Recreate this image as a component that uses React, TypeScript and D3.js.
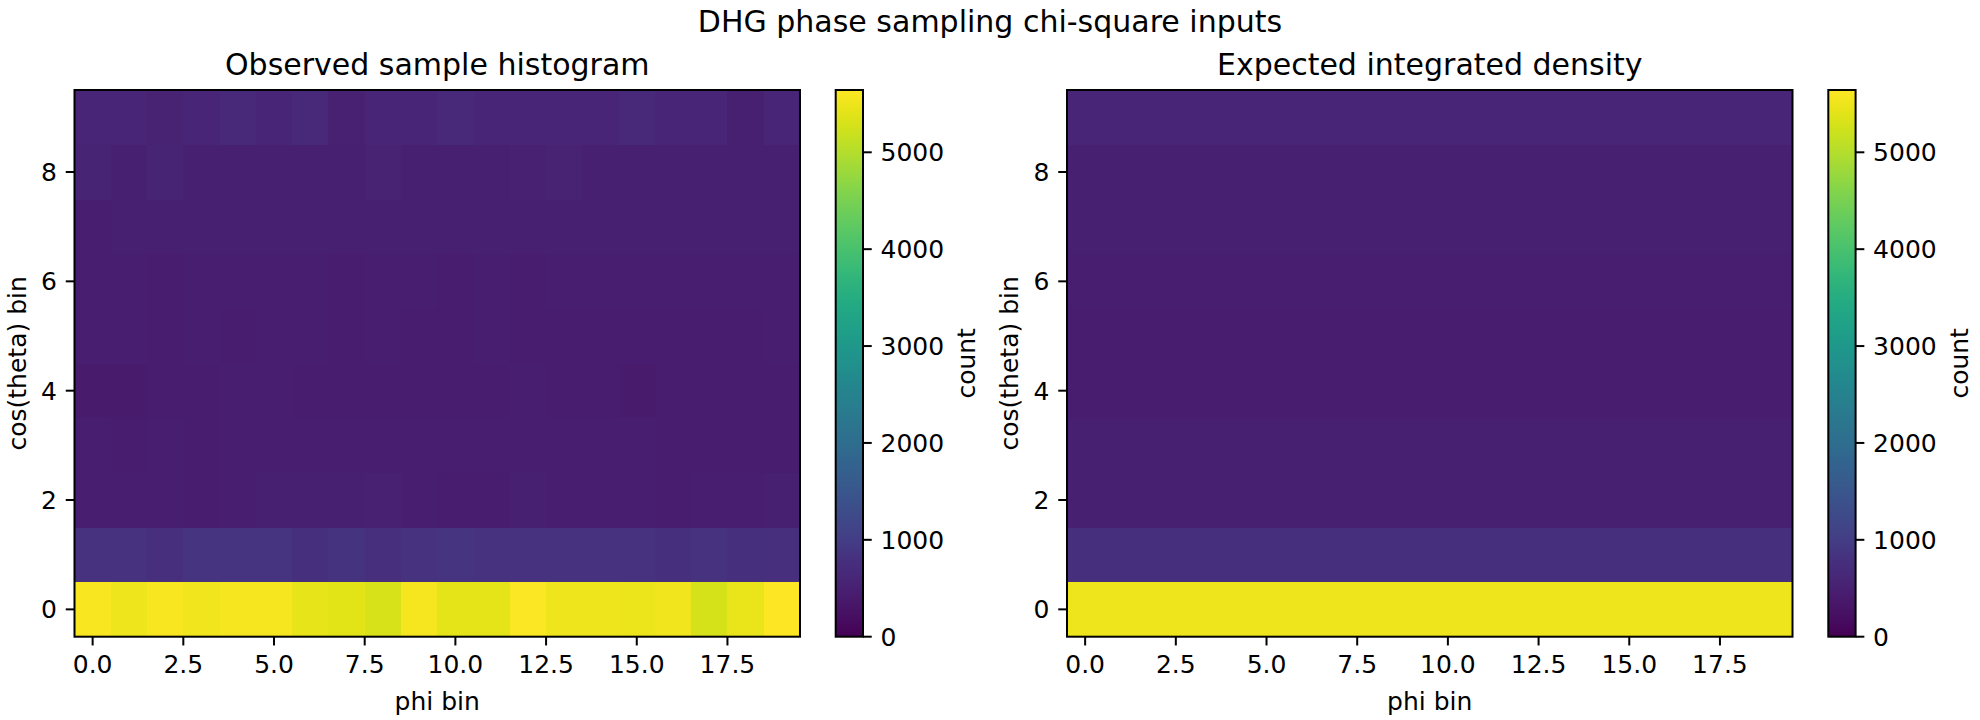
import React from "react";
import * as d3 from "d3";

// ---------- data ----------
const phiBins: number[] = d3.range(20);
const cosBins: number[] = d3.range(10);

// observed counts, one array per cos(theta) bin (index 0 = bottom row), 20 phi bins each
const observedCounts: number[][] = [
  [5585, 5500, 5580, 5530, 5555, 5555, 5440, 5385, 5300, 5560, 5415, 5415, 5610, 5500, 5500, 5470, 5525, 5270, 5445, 5643],
  [800, 800, 750, 840, 840, 845, 790, 830, 750, 800, 840, 800, 800, 800, 800, 800, 790, 800, 780, 760],
  [475, 465, 470, 460, 480, 485, 485, 485, 510, 475, 450, 450, 500, 475, 475, 470, 450, 470, 470, 505],
  [470, 430, 470, 435, 470, 470, 470, 470, 470, 470, 470, 465, 480, 470, 470, 470, 430, 460, 460, 420],
  [415, 415, 430, 430, 465, 465, 420, 425, 425, 425, 425, 420, 470, 425, 420, 415, 420, 440, 450, 425],
  [470, 470, 440, 465, 430, 470, 465, 440, 475, 430, 430, 465, 420, 425, 425, 425, 425, 425, 430, 470],
  [475, 475, 440, 475, 475, 475, 475, 440, 480, 475, 440, 470, 435, 475, 475, 475, 475, 475, 475, 475],
  [465, 495, 485, 485, 485, 485, 490, 490, 490, 490, 490, 490, 490, 490, 505, 490, 490, 490, 490, 490],
  [555, 500, 555, 505, 495, 500, 500, 500, 550, 500, 500, 505, 510, 550, 495, 495, 500, 500, 500, 505],
  [590, 585, 530, 575, 630, 580, 635, 520, 585, 590, 625, 580, 585, 590, 590, 630, 580, 580, 500, 590],
];

// expected integrated density per cos(theta) bin (uniform in phi)
const expectedByCos: number[] = [5500, 790, 500, 490, 450, 450, 480, 490, 500, 575];

const xTicks: number[] = [0, 2.5, 5, 7.5, 10, 12.5, 15, 17.5];
const yTicks: number[] = [0, 2, 4, 6, 8];
const cbarTicks: number[] = [0, 1000, 2000, 3000, 4000, 5000];

const suptitle = "DHG phase sampling chi-square inputs";
const panelTitles = ["Observed sample histogram", "Expected integrated density"];
const xLabel = "phi bin";
const yLabel = "cos(theta) bin";
const cbarLabel = "count";

// ---------- layout ----------
const W = 1980;
const H = 720;
const FONT = "DejaVu Sans";
const TICK = 8.75;
const PAD = 8.75;
const LW = 2;
const axTop = 90;
const axBottom = 636.7;
const panels = [
  { x0: 74.5, x1: 800, cb0: 835.7, cb1: 863 },
  { x0: 1067, x1: 1792.5, cb0: 1828.3, cb1: 1855.6 },
];

const vmax = d3.max(observedCounts.flat()) as number;
const color = d3.scaleSequential(d3.interpolateViridis).domain([0, vmax]);

function Panel({ idx, grid }: { idx: number; grid: number[][] }) {
  const p = panels[idx];
  const x = d3.scaleLinear().domain([-0.5, 19.5]).range([p.x0, p.x1]);
  const y = d3.scaleLinear().domain([-0.5, 9.5]).range([axBottom, axTop]);
  const cy = d3.scaleLinear().domain([0, vmax]).range([axBottom, axTop]);
  const gradId = `viridis-${idx}`;
  const stops = d3.range(0, 1.0001, 0.02);
  return (
    <g>
      <defs>
        <linearGradient id={gradId} x1="0" y1="1" x2="0" y2="0">
          {stops.map((t) => (
            <stop key={t} offset={t} stopColor={d3.interpolateViridis(t)} />
          ))}
        </linearGradient>
      </defs>
      {/* cells */}
      <g shapeRendering="crispEdges">
        {cosBins.map((j) =>
          phiBins.map((i) => (
            <rect
              key={`${i}-${j}`}
              x={x(i - 0.5)}
              y={y(j + 0.5)}
              width={x(i + 0.5) - x(i - 0.5) + 0.3}
              height={y(j - 0.5) - y(j + 0.5) + 0.3}
              fill={color(grid[j][i])}
            />
          ))
        )}
      </g>
      {/* frame */}
      <rect x={p.x0} y={axTop} width={p.x1 - p.x0} height={axBottom - axTop} fill="none" stroke="#000" strokeWidth={LW} />
      {/* x ticks */}
      {xTicks.map((t) => (
        <g key={`xt${t}`}>
          <line x1={x(t)} x2={x(t)} y1={axBottom} y2={axBottom + TICK} stroke="#000" strokeWidth={LW} />
          <text x={x(t)} y={axBottom + TICK + PAD + 19} textAnchor="middle" fontSize={25} fontFamily={FONT}>
            {t.toFixed(1)}
          </text>
        </g>
      ))}
      {/* y ticks */}
      {yTicks.map((t) => (
        <g key={`yt${t}`}>
          <line x1={p.x0 - TICK} x2={p.x0} y1={y(t)} y2={y(t)} stroke="#000" strokeWidth={LW} />
          <text x={p.x0 - TICK - PAD} y={y(t)} dy="0.36em" textAnchor="end" fontSize={25} fontFamily={FONT}>
            {String(t)}
          </text>
        </g>
      ))}
      {/* labels */}
      <text x={(p.x0 + p.x1) / 2} y={710} textAnchor="middle" fontSize={25} fontFamily={FONT}>
        {xLabel}
      </text>
      <text
        transform={`translate(${p.x0 - 49},${(axTop + axBottom) / 2}) rotate(-90)`}
        textAnchor="middle"
        fontSize={25}
        fontFamily={FONT}
      >
        {yLabel}
      </text>
      <text x={(p.x0 + p.x1) / 2} y={75} textAnchor="middle" fontSize={30} fontFamily={FONT}>
        {panelTitles[idx]}
      </text>
      {/* colorbar */}
      <rect x={p.cb0} y={axTop} width={p.cb1 - p.cb0} height={axBottom - axTop} fill={`url(#${gradId})`} />
      <rect x={p.cb0} y={axTop} width={p.cb1 - p.cb0} height={axBottom - axTop} fill="none" stroke="#000" strokeWidth={LW} />
      {cbarTicks.map((t) => (
        <g key={`ct${t}`}>
          <line x1={p.cb1} x2={p.cb1 + TICK} y1={cy(t)} y2={cy(t)} stroke="#000" strokeWidth={LW} />
          <text x={p.cb1 + TICK + PAD} y={cy(t)} dy="0.36em" textAnchor="start" fontSize={25} fontFamily={FONT}>
            {String(t)}
          </text>
        </g>
      ))}
      <text
        transform={`translate(${p.cb0 + 139.5},${(axTop + axBottom) / 2}) rotate(-90)`}
        textAnchor="middle"
        fontSize={25}
        fontFamily={FONT}
      >
        {cbarLabel}
      </text>
    </g>
  );
}

export default function App() {
  const expectedGrid: number[][] = cosBins.map((j) => phiBins.map(() => expectedByCos[j]));
  return (
    <svg
      width={W}
      height={H}
      viewBox={`0 0 ${W} ${H}`}
      style={{ position: "absolute", left: 0, top: 0, background: "#fff" }}
    >
      <rect x={0} y={0} width={W} height={H} fill="#fff" />
      <text x={W / 2} y={31.7} textAnchor="middle" fontSize={30} fontFamily={FONT}>
        {suptitle}
      </text>
      <Panel idx={0} grid={observedCounts} />
      <Panel idx={1} grid={expectedGrid} />
    </svg>
  );
}
